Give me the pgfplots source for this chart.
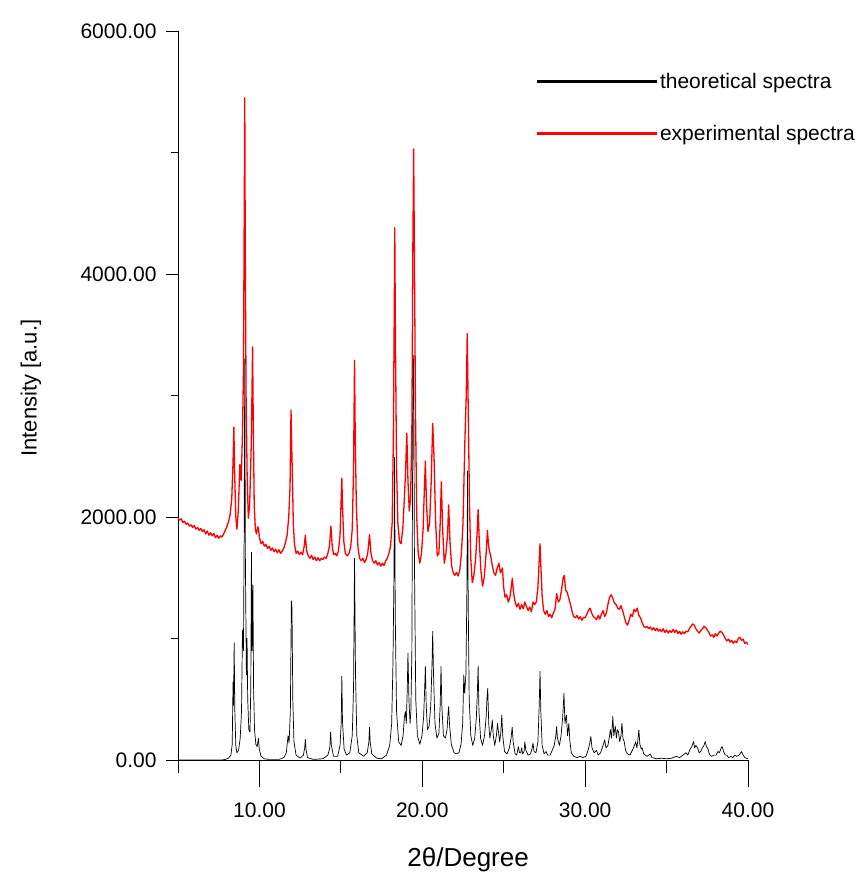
\documentclass[border=0pt]{standalone}
\usepackage{fontspec}
\setmainfont{Liberation Sans}
\usepackage{pgfplots}
\usepackage{pgfplotstable}
\pgfplotsset{compat=1.18}

% experimental pattern (red)
\pgfplotstableread{
x y
5.0 1990
5.1 1975
5.2 1985
5.3 1955
5.4 1965
5.5 1940
5.6 1950
5.7 1925
5.8 1935
5.9 1915
6.0 1930
6.1 1900
6.2 1915
6.3 1890
6.4 1905
6.5 1880
6.6 1895
6.7 1860
6.8 1885
6.9 1850
7.0 1870
7.1 1845
7.2 1865
7.3 1830
7.4 1850
7.5 1825
7.6 1845
7.7 1835
7.8 1860
7.9 1890
8.0 1920
8.1 1960
8.2 2020
8.3 2150
8.38 2450
8.43 2740
8.48 2350
8.55 2000
8.62 1900
8.7 2050
8.8 2430
8.88 2300
8.96 2690
9.02 3200
9.07 4600
9.10 5450
9.13 4200
9.18 3000
9.25 2300
9.32 1990
9.40 2100
9.50 2600
9.55 3100
9.58 3400
9.62 2800
9.68 2100
9.75 1900
9.82 1860
9.9 1920
9.95 1900
10.0 1830
10.1 1780
10.2 1800
10.3 1760
10.4 1775
10.5 1740
10.6 1760
10.7 1725
10.8 1745
10.9 1715
11.0 1735
11.1 1705
11.2 1730
11.3 1700
11.4 1720
11.5 1745
11.6 1790
11.7 1850
11.8 2000
11.88 2250
11.94 2880
11.98 2600
12.03 2300
12.08 1950
12.15 1780
12.25 1700
12.35 1720
12.45 1690
12.55 1710
12.65 1690
12.75 1760
12.82 1850
12.9 1720
13.0 1680
13.1 1660
13.2 1685
13.3 1650
13.4 1670
13.5 1640
13.6 1665
13.7 1640
13.8 1660
13.9 1650
14.0 1670
14.1 1660
14.2 1700
14.3 1760
14.39 1925
14.47 1760
14.55 1690
14.65 1700
14.75 1680
14.85 1720
14.95 1850
15.02 2150
15.06 2320
15.1 2100
15.18 1800
15.28 1700
15.4 1680
15.5 1700
15.6 1750
15.7 1900
15.78 2400
15.84 3290
15.88 2700
15.95 2100
16.05 1750
16.15 1660
16.25 1640
16.35 1660
16.45 1625
16.55 1650
16.65 1700
16.76 1855
16.85 1700
16.95 1640
17.05 1620
17.15 1640
17.25 1605
17.35 1625
17.45 1595
17.55 1620
17.65 1600
17.75 1640
17.85 1660
17.95 1700
18.05 1760
18.15 1950
18.22 2600
18.28 3700
18.31 4380
18.35 3500
18.42 2400
18.5 1950
18.6 1800
18.7 1780
18.8 1900
18.9 2150
18.98 2400
19.05 2690
19.12 2300
19.2 2050
19.28 2150
19.36 2700
19.42 4200
19.47 5030
19.52 4100
19.58 2900
19.66 2000
19.75 1700
19.85 1620
19.95 1700
20.05 1900
20.12 2200
20.19 2460
20.26 2100
20.35 1880
20.45 1950
20.55 2300
20.64 2770
20.72 2500
20.82 1950
20.92 1680
21.02 1700
21.1 1950
21.17 2290
21.25 1900
21.35 1620
21.45 1700
21.55 1850
21.62 2100
21.7 1800
21.8 1600
21.9 1540
22.0 1520
22.1 1545
22.2 1515
22.3 1560
22.4 1700
22.5 1950
22.56 2300
22.62 2650
22.7 3000
22.76 3510
22.82 2900
22.9 2100
22.98 1650
23.07 1460
23.17 1520
23.27 1650
23.36 1850
23.43 2060
23.5 1800
23.6 1560
23.7 1430
23.8 1500
23.92 1700
24.0 1890
24.08 1750
24.2 1680
24.3 1600
24.4 1540
24.5 1520
24.6 1580
24.7 1620
24.8 1540
24.92 1580
25.0 1420
25.08 1340
25.18 1360
25.28 1300
25.38 1340
25.46 1420
25.53 1495
25.6 1380
25.7 1300
25.8 1260
25.9 1290
26.0 1240
26.1 1280
26.2 1245
26.3 1300
26.4 1260
26.5 1230
26.6 1260
26.7 1220
26.8 1300
26.9 1280
27.0 1300
27.1 1420
27.18 1650
27.23 1780
27.28 1600
27.36 1350
27.45 1230
27.55 1200
27.65 1230
27.75 1180
27.85 1200
27.95 1170
28.05 1210
28.15 1240
28.25 1370
28.35 1300
28.45 1320
28.55 1400
28.65 1500
28.72 1520
28.8 1400
28.9 1380
29.0 1330
29.1 1280
29.2 1220
29.3 1180
29.4 1170
29.5 1190
29.6 1160
29.7 1180
29.8 1150
29.9 1175
30.0 1170
30.1 1200
30.2 1230
30.3 1250
30.4 1210
30.5 1180
30.6 1170
30.7 1155
30.8 1190
30.9 1160
31.0 1200
31.1 1230
31.2 1180
31.3 1210
31.4 1280
31.5 1340
31.6 1360
31.7 1330
31.8 1290
31.9 1280
32.0 1250
32.1 1240
32.2 1270
32.3 1230
32.4 1180
32.5 1130
32.6 1110
32.7 1150
32.8 1200
32.9 1180
33.0 1240
33.1 1220
33.2 1250
33.3 1190
33.4 1170
33.5 1130
33.6 1100
33.7 1090
33.8 1100
33.9 1080
34.0 1095
34.1 1070
34.2 1090
34.3 1065
34.4 1085
34.5 1060
34.6 1075
34.7 1055
34.8 1080
34.9 1050
35.0 1070
35.1 1045
35.2 1065
35.3 1050
35.4 1075
35.5 1050
35.6 1070
35.7 1040
35.8 1060
35.9 1035
36.0 1055
36.1 1040
36.2 1060
36.3 1055
36.4 1080
36.5 1100
36.6 1120
36.7 1110
36.8 1080
36.9 1060
37.0 1045
37.1 1065
37.2 1080
37.3 1100
37.4 1090
37.5 1070
37.6 1050
37.7 1020
37.8 1030
37.9 1010
38.0 1040
38.1 1020
38.2 1045
38.3 1060
38.4 1050
38.5 1030
38.6 1000
38.7 980
38.8 995
38.9 970
39.0 985
39.1 960
39.2 980
39.3 965
39.4 1000
39.5 1010
39.6 985
39.7 995
39.8 960
39.9 970
40.0 950
}\experimental

% calculated pattern (black)
\pgfplotstableread{
x y
5 0
7.7 0
7.9 5
8.1 15
8.25 40
8.33 130
8.38 640
8.41 450
8.45 965
8.49 400
8.55 120
8.62 60
8.72 80
8.82 180
8.9 400
8.96 1070
9.02 900
9.06 1800
9.10 3300
9.14 1600
9.2 700
9.24 1000
9.28 500
9.35 250
9.42 230
9.47 600
9.51 1710
9.55 900
9.60 1440
9.64 600
9.7 250
9.78 130
9.86 110
9.94 180
9.99 90
10.1 30
10.3 10
10.6 5
11.2 5
11.5 20
11.65 60
11.72 150
11.76 200
11.82 140
11.9 400
11.96 1310
12.0 1250
12.05 500
12.12 150
12.25 40
12.5 15
12.7 40
12.78 100
12.82 170
12.86 90
12.95 20
13.3 5
13.9 10
14.2 40
14.32 100
14.37 230
14.42 120
14.55 30
14.8 30
14.95 120
15.02 300
15.06 690
15.1 320
15.2 90
15.35 40
15.55 60
15.7 200
15.78 600
15.84 1660
15.9 700
15.98 200
16.1 60
16.4 30
16.62 60
16.72 150
16.76 270
16.8 150
16.9 50
17.2 15
17.5 10
17.8 40
18.0 120
18.12 300
18.2 800
18.26 1500
18.3 2490
18.34 1200
18.42 400
18.55 150
18.7 120
18.82 200
18.9 350
18.96 400
19.02 300
19.08 600
19.12 880
19.18 500
19.25 300
19.3 400
19.36 900
19.42 2850
19.47 3330
19.52 1600
19.6 500
19.7 200
19.85 130
19.98 200
20.08 350
20.15 600
20.19 770
20.24 450
20.32 250
20.42 280
20.52 450
20.6 800
20.64 1060
20.69 700
20.78 300
20.9 180
21.02 220
21.1 450
21.15 770
21.2 450
21.3 200
21.42 180
21.52 250
21.58 380
21.62 440
21.67 300
21.78 130
21.95 60
22.1 50
22.25 60
22.38 130
22.48 300
22.55 700
22.6 550
22.68 700
22.74 1400
22.78 2380
22.82 1300
22.88 500
22.98 200
23.1 120
23.22 180
23.32 350
23.38 550
23.43 770
23.48 400
23.58 180
23.7 120
23.82 200
23.92 350
23.97 500
24.02 590
24.08 300
24.15 180
24.24 250
24.3 330
24.36 200
24.45 120
24.55 200
24.62 300
24.68 230
24.75 150
24.82 220
24.88 370
24.94 200
25.05 70
25.2 50
25.35 100
25.45 180
25.52 270
25.58 150
25.7 50
25.8 40
25.9 110
25.97 60
26.05 60
26.1 100
26.16 50
26.25 70
26.3 150
26.36 80
26.5 40
26.65 50
26.75 100
26.8 140
26.86 70
26.98 60
27.1 150
27.18 450
27.23 730
27.28 400
27.36 120
27.48 50
27.6 70
27.7 40
27.85 40
27.98 80
28.1 120
28.2 200
28.25 276
28.3 180
28.42 120
28.52 200
28.62 350
28.7 550
28.76 300
28.85 370
28.92 200
29.0 300
29.06 160
29.15 60
29.3 30
29.5 20
29.7 30
29.85 20
30.05 30
30.2 90
30.3 150
30.35 193
30.42 100
30.55 60
30.7 80
30.8 40
30.95 60
31.1 120
31.2 165
31.28 100
31.4 120
31.5 200
31.55 250
31.62 180
31.7 358
31.76 200
31.85 280
31.92 180
31.98 250
32.05 230
32.12 150
32.2 200
32.26 303
32.32 180
32.4 150
32.48 80
32.6 50
32.75 40
32.9 80
33.0 110
33.1 150
33.18 100
33.25 180
33.3 248
33.36 130
33.45 90
33.5 100
33.6 50
33.8 30
34.0 50
34.1 20
34.4 10
34.7 15
35.0 10
35.3 15
35.6 30
35.8 20
36.0 40
36.2 60
36.3 40
36.45 90
36.55 110
36.66 152
36.72 100
36.8 120
36.9 100
37.0 60
37.1 70
37.2 100
37.3 120
37.37 152
37.45 110
37.55 90
37.62 50
37.75 30
37.9 40
38.05 40
38.15 70
38.25 60
38.35 100
38.42 110
38.5 70
38.6 40
38.7 40
38.8 20
38.95 30
39.05 20
39.2 40
39.3 30
39.45 40
39.55 60
39.6 69
39.7 40
39.8 20
40.0 10
}\theoretical

\begin{document}
\begin{tikzpicture}
\useasboundingbox (-178pt,-119pt) rectangle (683pt,760pt);
% y axis, curves and legend
\begin{axis}[
  at={(0,0)}, anchor=south west,
  scale only axis, width=570pt, height=729pt,
  xmin=5, xmax=40, ymin=0, ymax=6000,
  axis x line=none, axis y line=left,
  y axis line style={-, line width=0.8pt},
  ytick={0,2000,4000,6000}, minor ytick={1000,3000,5000},
  tick align=outside, major tick length=12pt, minor tick length=7pt,
  tick style={line width=0.8pt, black},
  scaled y ticks=false,
  yticklabel style={font=\fontsize{21}{24}\selectfont, xshift=-6pt,
    /pgf/number format/fixed, /pgf/number format/fixed zerofill,
    /pgf/number format/precision=2, /pgf/number format/1000 sep={},
    /pgf/number format/assume math mode=true},
  ylabel={Intensity [a.u.]},
  every axis y label/.style={at={(axis description cs:-0.258,0.51)},
    rotate=90, anchor=center, font=\fontsize{22}{26}\selectfont},
  reverse legend,
  legend style={at={(axis description cs:0.626,0.945)}, anchor=north west,
    draw=none, fill=none, font=\fontsize{21}{25}\selectfont,
    row sep=31pt, inner sep=0pt},
  legend cell align=left,
  legend image code/.code={\draw[#1, line width=3pt] (0pt,0pt) -- (120pt,0pt);},
]
\addplot[red, line width=1.3pt, line join=round] table[x=x, y=y] {\experimental};
\addlegendentry{experimental spectra}
\addplot[black, line width=0.7pt, line join=round] table[x=x, y=y] {\theoretical};
\addlegendentry{theoretical spectra}
\end{axis}
% x axis with its longer ticks
\begin{axis}[
  at={(0,0)}, anchor=south west,
  scale only axis, width=570pt, height=729pt,
  xmin=5, xmax=40, ymin=0, ymax=6000,
  axis x line=bottom, axis y line=none,
  x axis line style={-, line width=0.8pt},
  xtick={10,20,30,40}, minor xtick={5,15,25,35}, ytick=\empty,
  tick align=outside, major tick length=27pt, minor tick length=13pt,
  tick style={line width=0.8pt, black},
  xticklabel style={font=\fontsize{21}{24}\selectfont, yshift=-12pt,
    /pgf/number format/fixed, /pgf/number format/fixed zerofill,
    /pgf/number format/precision=2,
    /pgf/number format/assume math mode=true},
  xlabel={2θ/Degree},
  every axis x label/.style={at={(axis description cs:0.509,-0.137)},
    anchor=center, font=\fontsize{26}{30}\selectfont},
]
\end{axis}
\end{tikzpicture}
\end{document}
